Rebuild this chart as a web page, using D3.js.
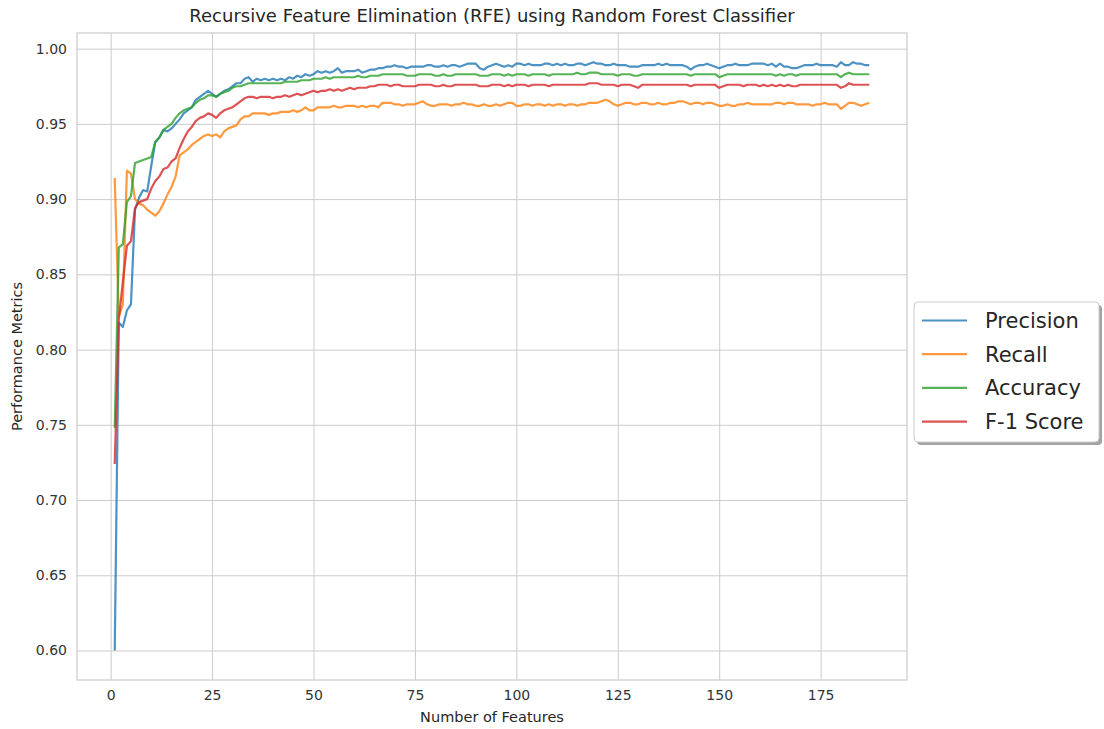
<!DOCTYPE html>
<html>
<head>
<meta charset="utf-8">
<script src="https://cdn.jsdelivr.net/npm/d3@7"></script>
<style>
  body { margin: 0; background: #fff; }
  text { font-family: "DejaVu Sans", sans-serif; fill: #262626; }
  .grid line { stroke: #cccccc; stroke-width: 1; }
  .tick text { font-size: 14px; fill: #333; }
  .label { font-size: 14.5px; }
</style>
</head>
<body>
<div id="chart"></div>
<script>
// number of features kept at each RFE step
let features = d3.range(1, 188);

let precision = [0.600,0.818,0.815,0.826,0.830,0.893,0.901,0.906,0.905,0.922,
 0.938,0.941,0.946,0.945,0.947,0.950,0.953,0.957,0.959,0.961,
 0.966,0.968,0.970,0.972,0.970,0.968,0.970,0.972,0.973,0.975,
 0.977,0.977,0.980,0.981,0.978,0.980,0.979,0.980,0.979,0.980,
 0.979,0.980,0.979,0.981,0.980,0.982,0.981,0.983,0.982,0.983,
 0.985,0.984,0.985,0.984,0.985,0.987,0.984,0.985,0.985,0.985,
 0.986,0.984,0.985,0.986,0.986,0.987,0.987,0.988,0.988,0.989,
 0.988,0.988,0.987,0.988,0.988,0.988,0.988,0.989,0.989,0.988,
 0.988,0.989,0.988,0.989,0.989,0.988,0.989,0.990,0.990,0.990,
 0.987,0.986,0.988,0.989,0.990,0.989,0.988,0.989,0.988,0.990,
 0.990,0.989,0.990,0.989,0.989,0.989,0.990,0.990,0.989,0.990,
 0.989,0.990,0.989,0.989,0.990,0.990,0.989,0.990,0.991,0.990,
 0.990,0.989,0.989,0.990,0.989,0.989,0.989,0.988,0.988,0.988,
 0.989,0.989,0.989,0.989,0.990,0.989,0.990,0.989,0.989,0.989,
 0.989,0.988,0.986,0.988,0.989,0.989,0.990,0.989,0.988,0.987,
 0.988,0.989,0.989,0.990,0.989,0.989,0.989,0.990,0.990,0.990,
 0.990,0.989,0.990,0.988,0.990,0.988,0.988,0.987,0.987,0.988,
 0.989,0.989,0.989,0.990,0.989,0.989,0.989,0.989,0.988,0.991,
 0.989,0.989,0.991,0.990,0.990,0.989,0.989];

let recall = [0.914,0.822,0.830,0.919,0.917,0.900,0.897,0.896,0.893,0.891,
 0.889,0.892,0.897,0.903,0.908,0.915,0.929,0.931,0.933,0.936,
 0.938,0.940,0.942,0.943,0.942,0.943,0.941,0.945,0.947,0.948,
 0.949,0.953,0.955,0.955,0.957,0.957,0.957,0.957,0.956,0.957,
 0.957,0.958,0.958,0.958,0.959,0.958,0.959,0.961,0.959,0.959,
 0.961,0.961,0.961,0.961,0.962,0.961,0.961,0.962,0.962,0.962,
 0.961,0.962,0.961,0.962,0.962,0.961,0.964,0.964,0.964,0.963,
 0.963,0.962,0.963,0.963,0.963,0.964,0.965,0.963,0.962,0.962,
 0.963,0.963,0.963,0.962,0.963,0.963,0.964,0.963,0.963,0.962,
 0.962,0.963,0.962,0.962,0.963,0.962,0.963,0.964,0.964,0.962,
 0.962,0.963,0.963,0.962,0.963,0.963,0.962,0.963,0.962,0.963,
 0.963,0.962,0.963,0.963,0.962,0.963,0.963,0.964,0.964,0.964,
 0.965,0.966,0.965,0.963,0.962,0.963,0.964,0.964,0.963,0.963,
 0.964,0.964,0.963,0.963,0.964,0.963,0.963,0.964,0.964,0.965,
 0.965,0.964,0.963,0.964,0.964,0.963,0.964,0.964,0.963,0.962,
 0.962,0.963,0.962,0.962,0.963,0.963,0.964,0.963,0.963,0.963,
 0.963,0.963,0.963,0.964,0.964,0.963,0.964,0.964,0.963,0.963,
 0.963,0.963,0.962,0.963,0.963,0.964,0.963,0.963,0.963,0.960,
 0.962,0.964,0.964,0.963,0.962,0.963,0.964];

let accuracy = [0.748,0.868,0.870,0.898,0.902,0.924,0.925,0.926,0.927,0.928,
 0.938,0.941,0.946,0.948,0.950,0.954,0.957,0.959,0.960,0.961,
 0.964,0.966,0.967,0.969,0.969,0.968,0.970,0.971,0.972,0.974,
 0.975,0.975,0.976,0.977,0.977,0.977,0.977,0.977,0.977,0.977,
 0.977,0.977,0.978,0.978,0.978,0.978,0.979,0.979,0.979,0.980,
 0.980,0.980,0.981,0.980,0.981,0.981,0.981,0.981,0.981,0.981,
 0.982,0.981,0.981,0.982,0.982,0.982,0.983,0.983,0.983,0.983,
 0.983,0.983,0.982,0.982,0.982,0.983,0.983,0.983,0.983,0.982,
 0.982,0.983,0.982,0.982,0.983,0.983,0.983,0.983,0.983,0.983,
 0.982,0.982,0.982,0.983,0.983,0.983,0.982,0.983,0.982,0.983,
 0.983,0.983,0.982,0.983,0.983,0.983,0.983,0.982,0.983,0.983,
 0.983,0.983,0.983,0.983,0.984,0.983,0.983,0.984,0.984,0.984,
 0.983,0.983,0.983,0.983,0.982,0.983,0.983,0.983,0.982,0.982,
 0.983,0.983,0.983,0.983,0.983,0.983,0.983,0.983,0.983,0.983,
 0.983,0.983,0.982,0.983,0.983,0.983,0.983,0.983,0.983,0.981,
 0.982,0.983,0.983,0.983,0.983,0.983,0.983,0.983,0.983,0.983,
 0.983,0.983,0.983,0.982,0.983,0.982,0.983,0.983,0.982,0.983,
 0.983,0.983,0.983,0.983,0.983,0.983,0.983,0.983,0.983,0.981,
 0.983,0.984,0.983,0.983,0.983,0.983,0.983];

let f1score = [0.724,0.820,0.845,0.869,0.872,0.894,0.898,0.899,0.900,0.907,
 0.912,0.915,0.920,0.921,0.925,0.927,0.934,0.940,0.945,0.948,
 0.952,0.954,0.955,0.957,0.956,0.954,0.957,0.959,0.960,0.961,
 0.963,0.965,0.967,0.968,0.968,0.967,0.968,0.968,0.968,0.967,
 0.968,0.968,0.969,0.968,0.969,0.970,0.969,0.970,0.971,0.972,
 0.971,0.972,0.972,0.973,0.972,0.973,0.972,0.973,0.974,0.973,
 0.974,0.974,0.974,0.975,0.975,0.976,0.976,0.976,0.975,0.976,
 0.976,0.975,0.975,0.975,0.975,0.976,0.976,0.976,0.976,0.975,
 0.975,0.976,0.975,0.975,0.976,0.976,0.976,0.976,0.976,0.976,
 0.975,0.975,0.975,0.976,0.976,0.976,0.975,0.976,0.975,0.976,
 0.976,0.976,0.975,0.976,0.976,0.976,0.976,0.975,0.976,0.976,
 0.976,0.976,0.976,0.976,0.976,0.976,0.976,0.977,0.977,0.977,
 0.976,0.976,0.976,0.976,0.975,0.976,0.976,0.976,0.975,0.974,
 0.976,0.976,0.976,0.976,0.976,0.976,0.976,0.976,0.976,0.976,
 0.976,0.976,0.975,0.976,0.976,0.976,0.976,0.976,0.976,0.974,
 0.975,0.976,0.976,0.976,0.976,0.975,0.976,0.976,0.976,0.975,
 0.976,0.975,0.976,0.975,0.976,0.975,0.976,0.975,0.975,0.976,
 0.976,0.976,0.976,0.976,0.976,0.976,0.976,0.976,0.976,0.974,
 0.975,0.977,0.976,0.976,0.976,0.976,0.976];

let seriesNames = ["Precision", "Recall", "Accuracy", "F-1 Score"];
let seriesValues = [precision, recall, accuracy, f1score];
let colors = ["#1f77b4", "#ff7f0e", "#2ca02c", "#d62728"];

let xTicks = [0, 25, 50, 75, 100, 125, 150, 175];
let yTicks = [0.60, 0.65, 0.70, 0.75, 0.80, 0.85, 0.90, 0.95, 1.00];

let margin = {top: 33, right: 197, left: 77, bottom: 49};
let width = 1104 - margin.left - margin.right;
let height = 729 - margin.top - margin.bottom;

let svg = d3.select("#chart")
    .append("svg")
    .attr("width", 1104)
    .attr("height", 729);

let chart = svg.append("g")
    .attr("transform", "translate(" + margin.left + ", " + margin.top + ")");

let x = d3.scaleLinear()
    .domain([-8.3, 196.3])
    .range([0, width]);

let y = d3.scaleLinear()
    .domain([0.5804, 1.0104])
    .range([height, 0]);

// grid + tick labels
chart.append("g")
    .attr("class", "grid")
    .attr("transform", "translate(0," + height + ")")
    .call(d3.axisBottom(x).tickValues(xTicks).tickSize(-height).tickPadding(10).tickFormat(d3.format("d")))
    .call(g => g.select(".domain").remove());

chart.append("g")
    .attr("class", "grid")
    .call(d3.axisLeft(y).tickValues(yTicks).tickSize(-width).tickPadding(10).tickFormat(d3.format(".2f")))
    .call(g => g.select(".domain").remove());

chart.append("rect")
    .attr("width", width)
    .attr("height", height)
    .attr("fill", "none")
    .attr("stroke", "#cccccc")
    .attr("stroke-width", 1.25);

let line = d3.line()
    .x((d, i) => x(features[i]))
    .y(d => y(d));

seriesValues.forEach((vals, i) => {
    chart.append("path")
        .datum(vals)
        .attr("d", line)
        .attr("fill", "none")
        .attr("stroke", colors[i])
        .attr("stroke-opacity", 0.8)
        .attr("stroke-width", 2.2)
        .attr("stroke-linejoin", "round");
});

// titles
svg.append("text")
    .attr("x", margin.left + width / 2)
    .attr("y", 22)
    .attr("text-anchor", "middle")
    .style("font-size", "18px")
    .text("Recursive Feature Elimination (RFE) using Random Forest Classifier");

svg.append("text")
    .attr("class", "label")
    .attr("x", margin.left + width / 2)
    .attr("y", 722)
    .attr("text-anchor", "middle")
    .text("Number of Features");

svg.append("text")
    .attr("class", "label")
    .attr("transform", "translate(22," + (margin.top + height / 2) + ") rotate(-90)")
    .attr("text-anchor", "middle")
    .text("Performance Metrics");

// legend
let legend = svg.append("g")
    .attr("transform", "translate(914, 302)");

legend.append("rect")
    .attr("x", 3)
    .attr("y", 3)
    .attr("width", 185)
    .attr("height", 140)
    .attr("rx", 4)
    .attr("fill", "#666")
    .attr("opacity", 0.6);

legend.append("rect")
    .attr("width", 185)
    .attr("height", 140)
    .attr("rx", 4)
    .attr("fill", "#fff")
    .attr("stroke", "#cccccc");

seriesNames.forEach((name, i) => {
    let yy = 18.5 + i * 33.7;
    legend.append("line")
        .attr("x1", 8)
        .attr("x2", 53)
        .attr("y1", yy)
        .attr("y2", yy)
        .attr("stroke", colors[i])
        .attr("stroke-opacity", 0.8)
        .attr("stroke-width", 2.2);
    legend.append("text")
        .attr("x", 71)
        .attr("y", yy + 7.5)
        .style("font-size", "21px")
        .text(name);
});
</script>
</body>
</html>
